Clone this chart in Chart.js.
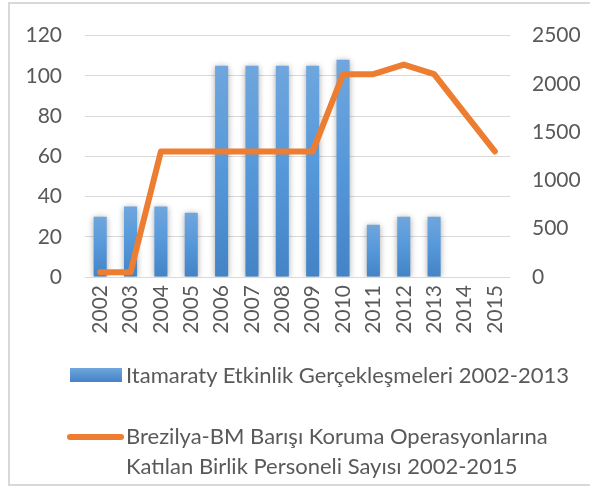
<!DOCTYPE html>
<html>
<head>
<meta charset="utf-8">
<script src="https://cdn.jsdelivr.net/npm/chart.js@4.4.1/dist/chart.umd.min.js"></script>
<style>
  html,body{margin:0;padding:0;background:#fff;}
  #wrap{position:relative;width:590px;height:490px;overflow:hidden;}
  #frame{position:absolute;left:8px;top:2px;width:600px;height:484px;border:2px solid #d9d9d9;box-sizing:border-box;}
  canvas{position:absolute;left:0;top:0;}
  .lg{position:absolute;font-family:Lato, "Open Sans", sans-serif;font-size:22px;color:#595959;line-height:30px;white-space:nowrap;}
  .sw{position:absolute;}
</style>
</head>
<body>
<div id="wrap">
  <div id="frame"></div>
  <canvas id="c" width="590" height="490"></canvas>
  <div class="sw" id="sw1" style="left:70px;top:368px;width:52px;height:14px;background:linear-gradient(#6fa6dd,#4383c6);"></div>
  <div class="lg" id="lg1" style="left:126px;top:360px;"></div>
  <div class="sw" id="sw2" style="left:67px;top:434px;width:57px;height:6px;border-radius:3px;background:#ed7d31;"></div>
  <div class="lg" id="lg2" style="left:126px;top:421px;"></div>
</div>
<script>
const years = ['2002','2003','2004','2005','2006','2007','2008','2009','2010','2011','2012','2013','2014','2015'];
const eventCounts = [30, 35, 35, 32, 105, 105, 105, 105, 108, 26, 30, 30, null, null];
const personnel = [50, 50, 1300, 1300, 1300, 1300, 1300, 1300, 2100, 2100, 2200, 2100, 1700, 1300];
const barLabel = 'Itamaraty Etkinlik Gerçekleşmeleri 2002-2013';
const lineLabel = ['Brezilya-BM Barışı Koruma Operasyonlarına', 'Katılan Birlik Personeli Sayısı 2002-2015'];
const leftTicks = [0, 20, 40, 60, 80, 100, 120];
const rightTicks = [0, 500, 1000, 1500, 2000, 2500];

document.getElementById('lg1').textContent = barLabel;
document.getElementById('lg2').innerHTML = lineLabel.join('<br>');

const FONT = {family: 'Lato, "Open Sans", sans-serif', size: 21};
const TXT = '#595959';

function barGradient(ctx) {
  const chart = ctx.chart;
  if (!chart.chartArea || ctx.raw == null) return '#5b9bd5';
  const ys = chart.scales.y;
  const top = ys.getPixelForValue(ctx.raw);
  const bot = ys.getPixelForValue(0);
  const g = chart.ctx.createLinearGradient(0, top, 0, bot);
  g.addColorStop(0, '#6fa6dd');
  g.addColorStop(0.5, '#5598da');
  g.addColorStop(1, '#4383c6');
  return g;
}

const shadowPlugin = {
  id: 'barShadow',
  beforeDatasetDraw(chart, args) {
    if (args.meta.type === 'bar') {
      const c = chart.ctx;
      c.save();
      c.shadowColor = 'rgba(0,0,0,0.35)';
      c.shadowBlur = 6;
      c.shadowOffsetX = 0;
      c.shadowOffsetY = 1;
    }
  },
  afterDatasetDraw(chart, args) {
    if (args.meta.type === 'bar') chart.ctx.restore();
  }
};

new Chart(document.getElementById('c'), {
  data: {
    labels: years,
    datasets: [
      {
        type: 'bar',
        label: barLabel,
        data: eventCounts,
        yAxisID: 'y',
        backgroundColor: barGradient,
        barPercentage: 0.43,
        categoryPercentage: 1,
        order: 1
      },
      {
        type: 'line',
        label: lineLabel.join(' '),
        data: personnel,
        yAxisID: 'y1',
        borderColor: '#ed7d31',
        borderWidth: 6,
        borderCapStyle: 'round',
        borderJoinStyle: 'round',
        pointRadius: 0,
        tension: 0,
        order: 0
      }
    ]
  },
  options: {
    responsive: false,
    animation: false,
    events: [],
    layout: {padding: {top: 32, left: 0, right: 0, bottom: 153}},
    plugins: {legend: {display: false}, tooltip: {enabled: false}},
    scales: {
      x: {
        offset: true,
        grid: {display: false, drawTicks: false},
        border: {display: false},
        ticks: {color: TXT, font: FONT, minRotation: 90, maxRotation: 90, padding: 8, autoSkip: false},
        afterFit(s) { s.height = 60; }
      },
      y: {
        position: 'left',
        min: 0, max: 120,
        afterBuildTicks(s) { s.ticks = leftTicks.map(v => ({value: v})); },
        grid: {color: '#d9d9d9', lineWidth: 1, drawTicks: false},
        border: {display: false},
        ticks: {color: TXT, font: FONT, padding: 23, callback: v => String(v)},
        afterFit(s) { s.width = 85; }
      },
      y1: {
        position: 'right',
        min: 0, max: 2500,
        afterBuildTicks(s) { s.ticks = rightTicks.map(v => ({value: v})); },
        grid: {display: false, drawTicks: false},
        border: {display: false},
        ticks: {color: TXT, font: FONT, padding: 22, callback: v => String(v)},
        afterFit(s) { s.width = 80; }
      }
    }
  },
  plugins: [shadowPlugin]
});
</script>
</body>
</html>
